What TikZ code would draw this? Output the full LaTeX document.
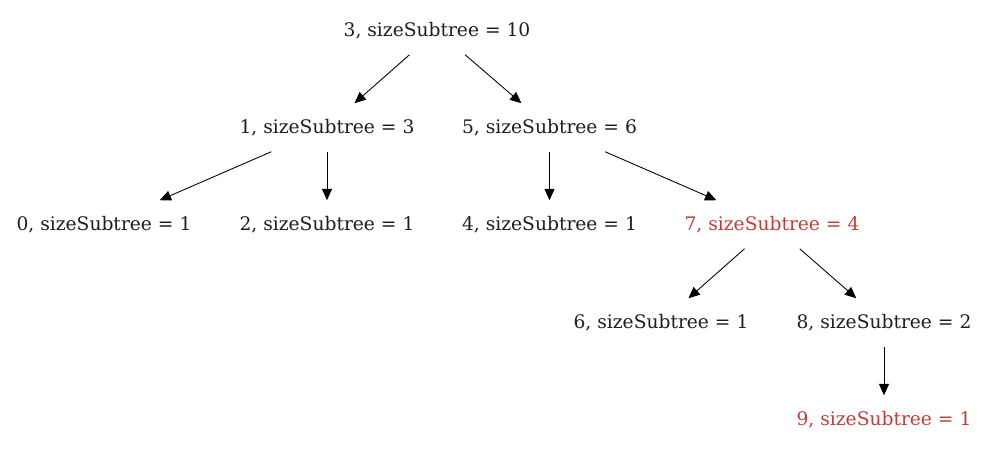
\documentclass[tikz,border=0pt]{standalone}
\usepackage{fontspec}
\setmainfont{DejaVu Serif}
\usetikzlibrary{arrows.meta}
\definecolor{hilite}{RGB}{190,62,56}
\definecolor{ink}{RGB}{30,30,30}

\begin{document}
\begin{tikzpicture}[x=0.75pt, y=-0.75pt,
    every node/.style={font=\fontsize{14}{16}\selectfont, text=ink, minimum height=36pt, inner sep=2pt},
    marked/.style={text=hilite},
    edge/.style={-{Triangle[length=8.5pt, width=7.5pt]}, line width=0.65pt}]

  \useasboundingbox (0,0) rectangle (989,449);

  \node[] (n3) at (437,30.5) {3, sizeSubtree = 10};

  \node[] (n1) at (327,127.5) {1, sizeSubtree = 3};
  \node[] (n5) at (549.5,127.5) {5, sizeSubtree = 6};

  \node[] (n0) at (104,224.5) {0, sizeSubtree = 1};
  \node[] (n2) at (327,224.5) {2, sizeSubtree = 1};
  \node[] (n4) at (549.5,224.5) {4, sizeSubtree = 1};
  \node[marked] (n7) at (772,224.5) {7, sizeSubtree = 4};

  \node[] (n6) at (661,322.5) {6, sizeSubtree = 1};
  \node[] (n8) at (884,322.5) {8, sizeSubtree = 2};

  \node[marked] (n9) at (884,419.5) {9, sizeSubtree = 1};

  \draw[edge] (n3) -- (n1);
  \draw[edge] (n3) -- (n5);
  \draw[edge] (n1) -- (n0);
  \draw[edge] (n1) -- (n2);
  \draw[edge] (n5) -- (n4);
  \draw[edge] (n5) -- (n7);
  \draw[edge] (n7) -- (n6);
  \draw[edge] (n7) -- (n8);
  \draw[edge] (n8) -- (n9);

\end{tikzpicture}
\end{document}
